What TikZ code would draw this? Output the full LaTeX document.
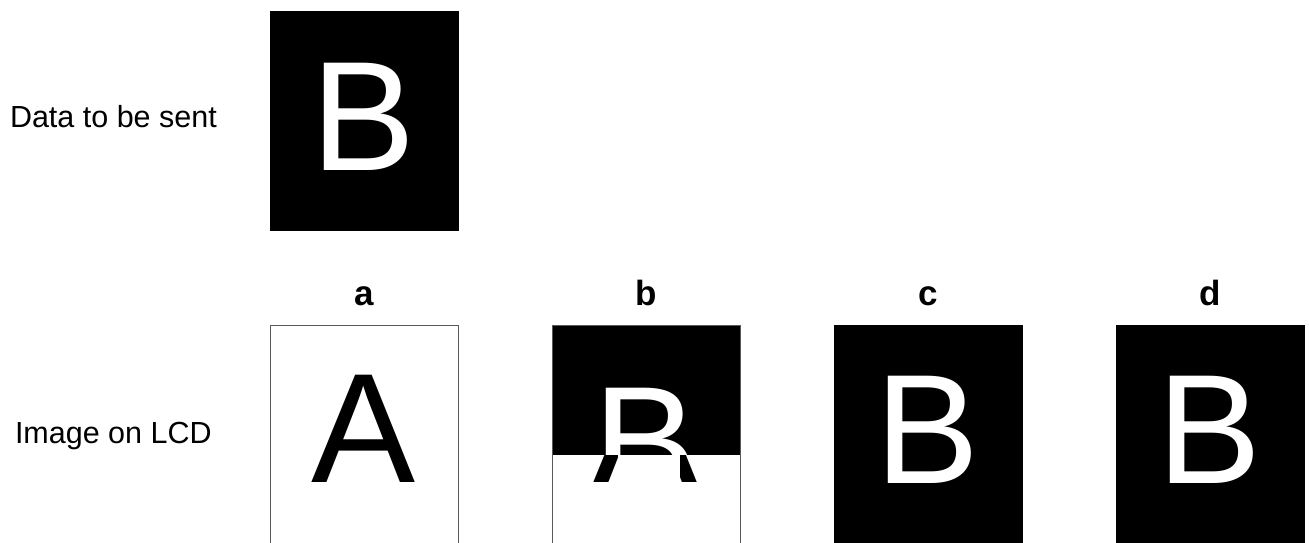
\documentclass[tikz,border=0pt]{standalone}
\usepackage{fontspec}
\setmainfont{Liberation Sans}
\usetikzlibrary{positioning}

\begin{document}
\begin{tikzpicture}[
    x=1pt, y=-1pt,
    every node/.style={inner sep=0pt, outer sep=0pt},
    panel/.style={rectangle, draw=black!65, line width=0.8pt, minimum width=188pt, minimum height=220pt, anchor=north west},
    darkpanel/.style={panel, draw=black, fill=black},
    bigletter/.style={font=\fontsize{156}{156}\selectfont, anchor=base},
    caption/.style={font=\fontsize{30.5}{36}\selectfont, anchor=base west},
    tag/.style={font=\fontsize{35}{40}\selectfont\bfseries, anchor=base}
]
\useasboundingbox (0,0) rectangle (1309,543);

% ============ TOP: data to be sent ============
\node[caption] (sentlbl) at (10,127) {Data to be sent};
\node[darkpanel, minimum height=219pt] (sent) at (270,11) {};
\node[bigletter, text=white] (sentB) at (364,170) {B};

% ============ BOTTOM: image on LCD ============
\node[caption] (lcdlbl) at (15,443) {Image on LCD};

% panel a: old frame
\node[panel] (pa) at (270,325) {};
\node[bigletter] (paA) at (364,482) {A};

% panel b: torn frame
\fill[black] (552,325) rectangle (740,455);
\begin{scope}
  \clip (552,325) rectangle (740,455);
  \node[bigletter, text=white] (pbB) at (646,495) {B};
\end{scope}
\begin{scope}
  \clip (552,455) rectangle (740,543);
  \node[bigletter] (pbA) at (646,482) {A};
  \fill[white] (618,455) rectangle (680,484);
\end{scope}
\node[panel] (pb) at (552,325) {};

% panels c and d: new frame
\node[darkpanel] (pc) at (834,325) {};
\node[bigletter, text=white] (pcB) at (928,483) {B};
\node[darkpanel] (pd) at (1116,325) {};
\node[bigletter, text=white] (pdB) at (1210,483) {B};

% panel tags
\node[tag] (tga) at (364,305) {a};
\node[tag] (tgb) at (646,305) {b};
\node[tag] (tgc) at (928,305) {c};
\node[tag] (tgd) at (1210,305) {d};

\end{tikzpicture}
\end{document}
